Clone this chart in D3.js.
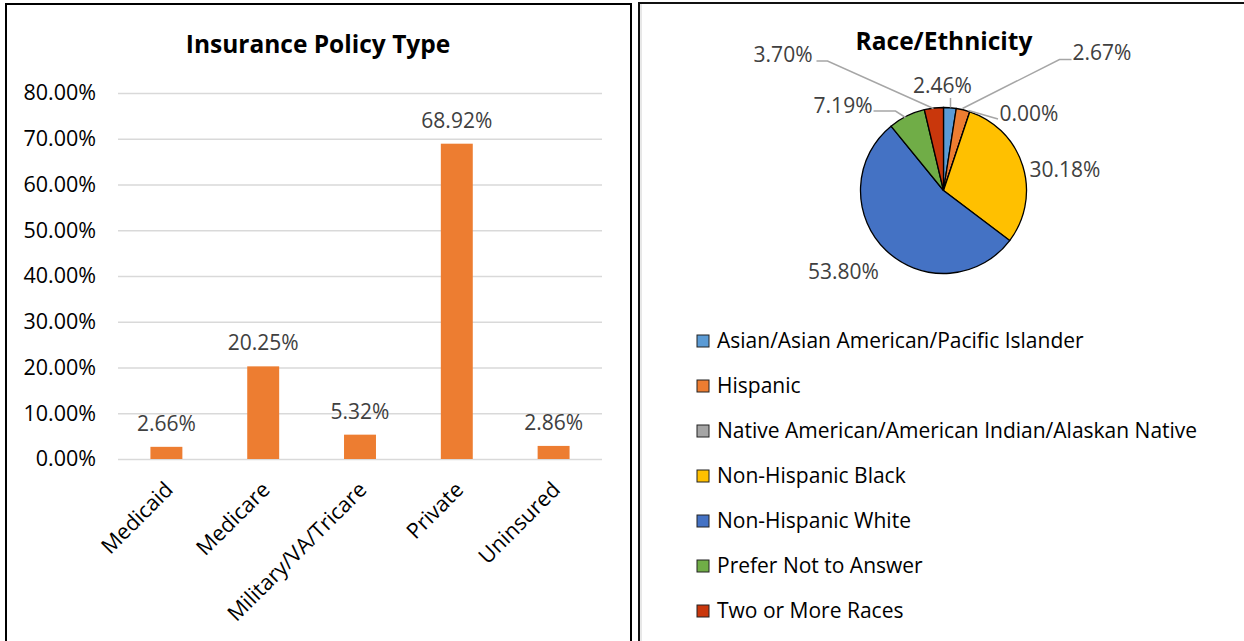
<!DOCTYPE html>
<html>
<head>
<meta charset="utf-8">
<script src="https://cdn.jsdelivr.net/npm/d3@7"></script>
<style>
  body { margin: 0; background: #fff; }
  svg text { font-family: "Open Sans", "Noto Sans", sans-serif; }
</style>
</head>
<body>
<div id="chart-area"></div>
<script>
// insurance data
var policyTypes = ["Medicaid", "Medicare", "Military/VA/Tricare", "Private", "Uninsured"];
var policyValues = [2.66, 20.25, 5.32, 68.92, 2.86];
var yTicks = [0, 10, 20, 30, 40, 50, 60, 70, 80];

// race / ethnicity data
var raceGroups = ["Asian/Asian American/Pacific Islander", "Hispanic",
    "Native American/American Indian/Alaskan Native", "Non-Hispanic Black",
    "Non-Hispanic White", "Prefer Not to Answer", "Two or More Races"];
var raceValues = [2.46, 2.67, 0.00, 30.18, 53.80, 7.19, 3.70];
var raceColors = ["#5B9BD5", "#ED7D31", "#A5A5A5", "#FFC000", "#4472C4", "#70AD47", "#C9370C"];

var W = 1244, H = 641;
var svg = d3.select("#chart-area")
    .append("svg")
        .attr("width", W)
        .attr("height", H);

// panel frames
svg.append("rect")
    .attr("x", 6).attr("y", 4)
    .attr("width", 625).attr("height", 700)
    .attr("fill", "none").attr("stroke", "#000").attr("stroke-width", 2);
svg.append("rect")
    .attr("x", 639).attr("y", 3)
    .attr("width", 700).attr("height", 700)
    .attr("fill", "none").attr("stroke", "#111").attr("stroke-width", 2);
svg.append("line")
    .attr("x1", 641).attr("x2", 641).attr("y1", 4).attr("y2", H)
    .attr("stroke", "#d0d0d0").attr("stroke-width", 1);

// ---------- bar chart ----------
var plot = {left: 118, right: 602, top: 93, bottom: 459};

var x = d3.scaleBand()
    .domain(policyTypes)
    .range([plot.left, plot.right])
    .paddingInner(0.67)
    .paddingOuter(0.335);

var y = d3.scaleLinear()
    .domain([0, 80])
    .range([plot.bottom, plot.top]);

var bar = svg.append("g").attr("class", "bar-chart");

bar.append("text")
    .attr("x", 318).attr("y", 53)
    .attr("text-anchor", "middle")
    .style("font-size", "24.5px").style("font-weight", "bold")
    .attr("fill", "#000")
    .text("Insurance Policy Type");

var yAxis = bar.append("g")
    .attr("transform", "translate(" + plot.left + ",0)")
    .call(d3.axisLeft(y).tickValues(yTicks)
        .tickSize(-(plot.right - plot.left))
        .tickPadding(22)
        .tickFormat(function(d) { return d.toFixed(2) + "%"; }));
yAxis.select(".domain").remove();
yAxis.selectAll(".tick line").attr("stroke", "#d9d9d9").attr("stroke-width", 1.5);
yAxis.selectAll(".tick text")
    .attr("fill", "#000")
    .style("font-size", "21.5px");

bar.selectAll("rect.bar")
    .data(policyValues)
    .enter()
    .append("rect")
        .attr("class", "bar")
        .attr("x", function(d, i) { return x(policyTypes[i]); })
        .attr("width", x.bandwidth())
        .attr("y", function(d) { return y(d); })
        .attr("height", function(d) { return y(0) - y(d); })
        .attr("fill", "#ED7D31");

bar.selectAll("text.val")
    .data(policyValues)
    .enter()
    .append("text")
        .attr("class", "val")
        .attr("x", function(d, i) { return x(policyTypes[i]) + x.bandwidth() / 2; })
        .attr("y", function(d) { return y(d) - 16; })
        .attr("text-anchor", "middle")
        .attr("fill", "#404040")
        .style("font-size", "21px")
        .text(function(d) { return d.toFixed(2) + "%"; });

bar.selectAll("text.cat")
    .data(policyTypes)
    .enter()
    .append("text")
        .attr("class", "cat")
        .attr("transform", function(d) {
            var cx = x(d) + x.bandwidth() / 2 + 8;
            return "translate(" + cx + "," + (plot.bottom + 32) + ") rotate(-45)";
        })
        .attr("text-anchor", "end")
        .attr("fill", "#000")
        .style("font-size", "21.5px")
        .text(function(d) { return d; });

// ---------- pie chart ----------
var pieC = {x: 943.5, y: 190.5}, R = 83;
var pie = svg.append("g").attr("class", "pie-chart");

pie.append("text")
    .attr("x", 944).attr("y", 50)
    .attr("text-anchor", "middle")
    .style("font-size", "24.5px").style("font-weight", "bold")
    .attr("fill", "#000")
    .text("Race/Ethnicity");

var arcs = d3.pie().sort(null).value(function(d) { return d; })(raceValues);
var arc = d3.arc().innerRadius(0).outerRadius(R);

var pg = pie.append("g").attr("transform", "translate(" + pieC.x + "," + pieC.y + ")");
pg.selectAll("path")
    .data(arcs)
    .enter()
    .append("path")
        .attr("d", arc)
        .attr("fill", function(d, i) { return raceColors[i]; })
        .attr("stroke", "#000")
        .attr("stroke-width", 1.3);

// label positions (offsets from pie centre) and leader lines
var labelPos = [
    {dx: -1, dy: -104.5, anchor: "middle", line: [[7, -83], [7, -92.5]]},
    {dx: 129, dy: -137.5, anchor: "start", line: [[19, -82], [116, -131], [128, -131]]},
    {dx: 56, dy: -77, anchor: "start", line: [[25, -80], [54.5, -71.5]]},
    {dx: 86, dy: -20.5, anchor: "start"},
    {dx: -100, dy: 81.5, anchor: "middle"},
    {dx: -71, dy: -84.5, anchor: "end", line: [[-70, -79.5], [-48, -79.5], [-38, -73]]},
    {dx: -131, dy: -135.5, anchor: "end", line: [[-10, -82], [-116, -129.5], [-127, -129.5]]}
];

labelPos.forEach(function(p, i) {
    if (p.line) {
        pg.append("path")
            .attr("d", d3.line()(p.line))
            .attr("fill", "none")
            .attr("stroke", "#a6a6a6")
            .attr("stroke-width", 1.5);
    }
    pg.append("text")
        .attr("x", p.dx).attr("y", p.dy)
        .attr("text-anchor", p.anchor)
        .attr("dy", "0.35em")
        .attr("fill", "#404040")
        .style("font-size", "21px")
        .text(raceValues[i].toFixed(2) + "%");
});

// legend
var legend = pie.append("g").attr("class", "legend");
var ly = d3.scalePoint().domain(raceGroups).range([341, 611]);
var items = legend.selectAll("g")
    .data(raceGroups)
    .enter()
    .append("g")
        .attr("transform", function(d) { return "translate(697," + ly(d) + ")"; });
items.append("rect")
    .attr("x", 0).attr("y", -6)
    .attr("width", 12).attr("height", 12)
    .attr("fill", function(d, i) { return raceColors[i]; })
    .attr("stroke", "#222").attr("stroke-width", 1);
items.append("text")
    .attr("x", 20).attr("dy", "0.35em")
    .attr("fill", "#000")
    .style("font-size", "21px")
    .text(function(d) { return d; });
</script>
</body>
</html>
